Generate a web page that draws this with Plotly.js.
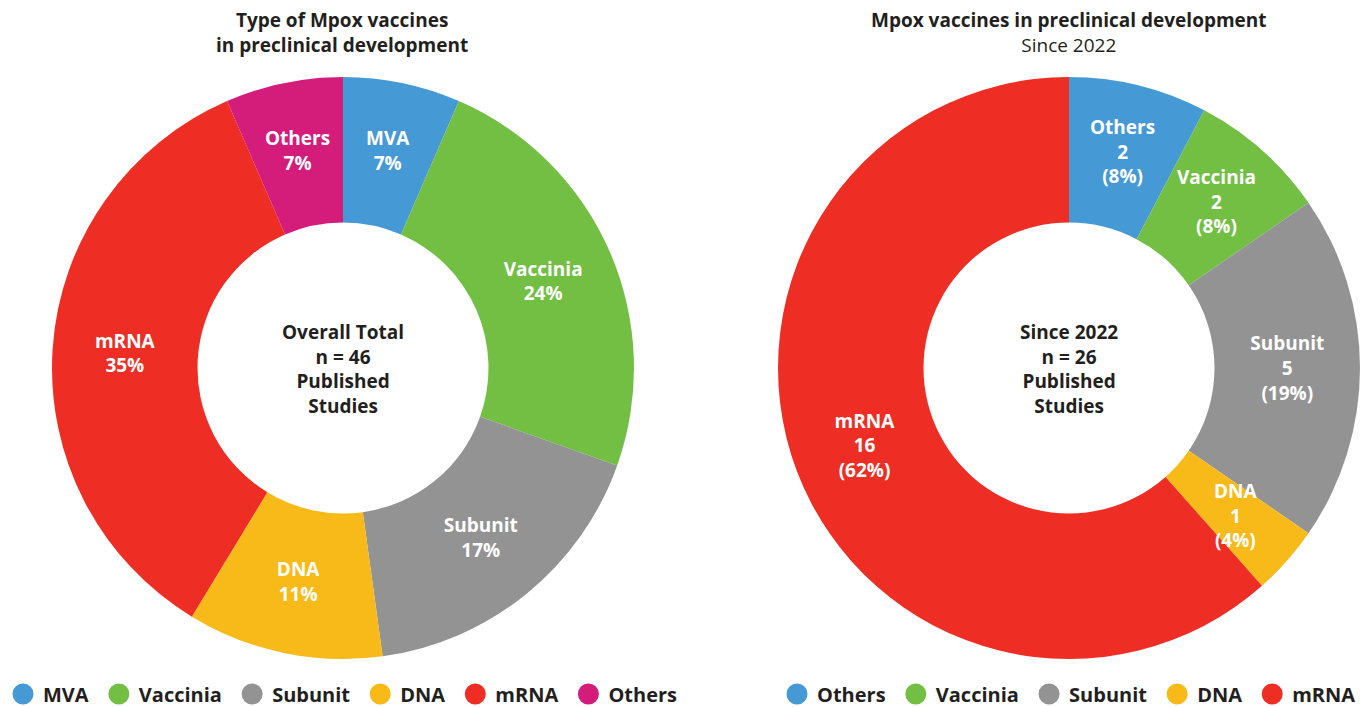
<!DOCTYPE html>
<html>
<head>
<meta charset="utf-8">
<script src="https://cdn.plot.ly/plotly-3.0.1.min.js"></script>
<style>html,body{margin:0;padding:0;background:#fff;}#chart{width:1366px;height:707px;}</style>
</head>
<body>
<div id="chart"></div>
<script>
// Left chart: all published studies (n = 46)
const leftLabels = ["MVA", "Vaccinia", "Subunit", "DNA", "mRNA", "Others"];
const leftValues = [3, 11, 8, 5, 16, 3];
const leftColors = ["#4599D5", "#72BF44", "#939393", "#F8BA18", "#EE2E24", "#D41C7B"];

// Right chart: since 2022 (n = 26)
const rightLabels = ["Others", "Vaccinia", "Subunit", "DNA", "mRNA"];
const rightValues = [2, 2, 5, 1, 16];
const rightColors = ["#4599D5", "#72BF44", "#939393", "#F8BA18", "#EE2E24"];

const leftTitle = "Type of Mpox vaccines<br>in preclinical development";
const rightTitle = "<b>Mpox vaccines in preclinical development</b><br>Since 2022";
const leftCenter = "Overall Total<br>n = 46<br>Published<br>Studies";
const rightCenter = "Since 2022<br>n = 26<br>Published<br>Studies";

const FONT = "Open Sans, Lato, DejaVu Sans, sans-serif";
const DARK = "#231F20";
const W = 1366, H = 707;

// pie geometry (pixels)
const R = 291, CY = 368, CXL = 343, CXR = 1069, HOLE = 0.5;
const domY = [(H - CY - R) / H, (H - CY + R) / H];

const sliceFont = {family: FONT, size: 19, color: "#ffffff", weight: 700};

const sum = a => a.reduce((p, q) => p + q, 0);
const leftTotal = sum(leftValues), rightTotal = sum(rightValues);
// thin slices: the reference prints their label full size at mid-radius
const leftThin = leftValues.map(v => v / leftTotal < 0.1);
const rightThin = rightValues.map(v => v / rightTotal < 0.1);

const traces = [
  {
    type: "pie",
    labels: leftLabels,
    values: leftValues,
    marker: {colors: leftColors, line: {width: 0}},
    hole: HOLE,
    sort: false,
    direction: "clockwise",
    rotation: 0,
    domain: {x: [(CXL - R) / W, (CXL + R) / W], y: domY},
    texttemplate: "%{label}<br>%{percent:.0%}",
    textposition: leftThin.map(f => f ? "none" : "inside"),
    insidetextorientation: "horizontal",
    textfont: sliceFont,
    showlegend: false,
    hoverinfo: "label+value+percent"
  },
  {
    type: "pie",
    labels: rightLabels,
    values: rightValues,
    marker: {colors: rightColors, line: {width: 0}},
    hole: HOLE,
    sort: false,
    direction: "clockwise",
    rotation: 0,
    domain: {x: [(CXR - R) / W, (CXR + R) / W], y: domY},
    texttemplate: "%{label}<br>%{value}<br>(%{percent:.0%})",
    textposition: rightThin.map(f => f ? "none" : "inside"),
    insidetextorientation: "horizontal",
    textfont: sliceFont,
    showlegend: false,
    hoverinfo: "label+value+percent"
  }
];

// Legend entries (circle markers)
const NB = "\u00a0";
leftLabels.forEach((lab, i) => {
  traces.push({type: "scatter", mode: "markers", x: [null], y: [null],
    name: lab + (i < leftLabels.length - 1 ? NB : ""),
    marker: {color: leftColors[i], size: 16, symbol: "circle", line: {color: leftColors[i], width: 5}},
    legend: "legend", showlegend: true, hoverinfo: "skip"});
});
rightLabels.forEach((lab, i) => {
  traces.push({type: "scatter", mode: "markers", x: [null], y: [null],
    name: lab + (i < rightLabels.length - 1 ? NB : ""),
    marker: {color: rightColors[i], size: 16, symbol: "circle", line: {color: rightColors[i], width: 5}},
    legend: "legend2", showlegend: true, hoverinfo: "skip"});
});

const legendFont = {family: FONT, size: 20, color: DARK, weight: 700};

const annotations = [
  {text: leftTitle, x: 342 / W, y: 1 - 32 / H, xref: "paper", yref: "paper", showarrow: false,
    xanchor: "center", yanchor: "middle", font: {family: FONT, size: 19, color: DARK, weight: 700}},
  {text: rightTitle, x: CXR / W, y: 1 - 32 / H, xref: "paper", yref: "paper", showarrow: false,
    xanchor: "center", yanchor: "middle", font: {family: FONT, size: 19, color: DARK}},
  {text: leftCenter, x: CXL / W, y: 1 - 369 / H, xref: "paper", yref: "paper", showarrow: false,
    xanchor: "center", yanchor: "middle", font: {family: FONT, size: 19, color: DARK, weight: 700}},
  {text: rightCenter, x: CXR / W, y: 1 - 369 / H, xref: "paper", yref: "paper", showarrow: false,
    xanchor: "center", yanchor: "middle", font: {family: FONT, size: 19, color: DARK, weight: 700}}
];

// Full-size labels for thin slices, at each slice's mid-angle (computed from the data)
function thinLabels(labels, values, total, thin, cx, withCount) {
  let cum = 0;
  values.forEach((v, i) => {
    const mid = (cum + v / 2) / total * 2 * Math.PI; // clockwise from 12 o'clock
    cum += v;
    if (!thin[i]) return;
    const r = R * 0.765;
    const px = cx + r * Math.sin(mid);
    const py = CY - r * Math.cos(mid);
    const pct = Math.round(v / total * 100) + "%";
    const txt = withCount ? labels[i] + "<br>" + v + "<br>(" + pct + ")" : labels[i] + "<br>" + pct;
    annotations.push({
      text: txt, x: px / W, y: 1 - py / H, xref: "paper", yref: "paper", showarrow: false,
      xanchor: "center", yanchor: "middle", font: sliceFont
    });
  });
}
thinLabels(leftLabels, leftValues, leftTotal, leftThin, CXL, false);
thinLabels(rightLabels, rightValues, rightTotal, rightThin, CXR, true);

const layout = {
  width: W,
  height: H,
  margin: {l: 0, r: 0, t: 0, b: 0, autoexpand: false},
  paper_bgcolor: "#ffffff",
  plot_bgcolor: "#ffffff",
  xaxis: {visible: false, domain: [0, 0.001]},
  yaxis: {visible: false, domain: [0, 0.001]},
  legend: {orientation: "h", x: 343 / W, xanchor: "center", y: 13 / H, yanchor: "middle",
    font: legendFont, bgcolor: "rgba(0,0,0,0)", traceorder: "normal"},
  legend2: {orientation: "h", x: CXR / W, xanchor: "center", y: 13 / H, yanchor: "middle",
    font: legendFont, bgcolor: "rgba(0,0,0,0)", traceorder: "normal"},
  annotations: annotations
};

Plotly.newPlot("chart", traces, layout, {displayModeBar: false, staticPlot: true});
</script>
</body>
</html>
